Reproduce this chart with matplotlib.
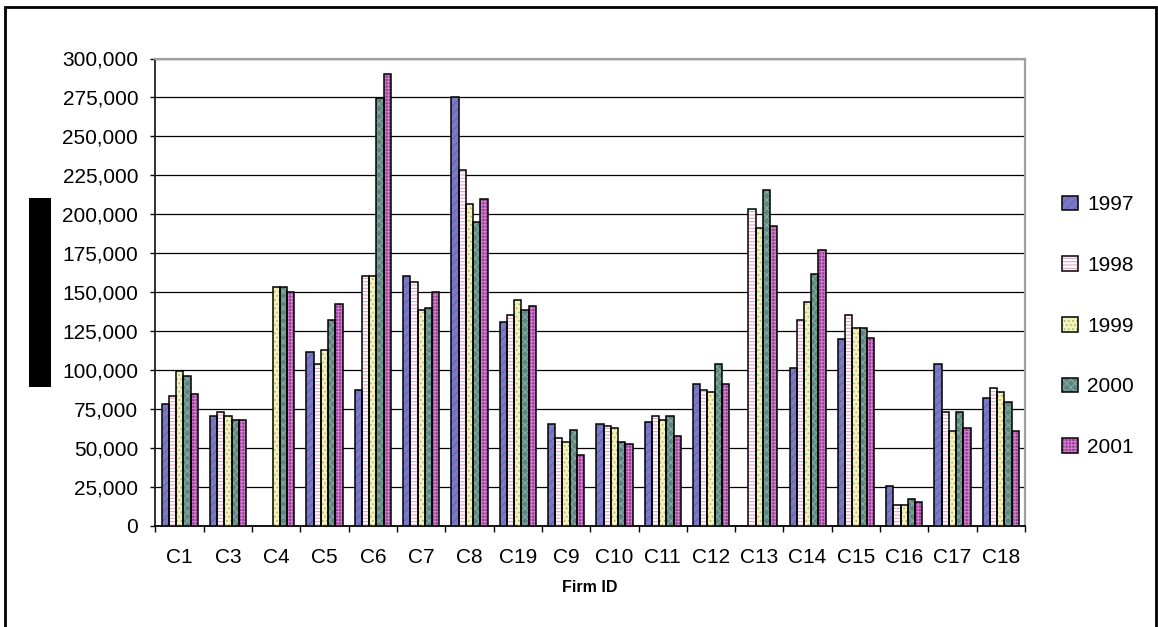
import numpy as np
import matplotlib
matplotlib.use("Agg")
import matplotlib.pyplot as plt
from matplotlib.patches import Rectangle, Patch
from matplotlib.ticker import FuncFormatter, MultipleLocator
from matplotlib.legend_handler import HandlerTuple

plt.rcParams["font.family"] = ["Liberation Sans", "DejaVu Sans"]
plt.rcParams["hatch.linewidth"] = 0.8

# Firm categories and yearly values (None = no data)
firms = ["C1", "C3", "C4", "C5", "C6", "C7", "C8", "C19", "C9",
         "C10", "C11", "C12", "C13", "C14", "C15", "C16", "C17", "C18"]
years = ["1997", "1998", "1999", "2000", "2001"]

v1997 = [78000, 70500, None, 111500, 87000, 160000, 275500, 131000, 65500,
         65500, 66500, 91000, None, 101000, 119500, 25500, 104000, 82000]
v1998 = [83500, 73000, None, 104000, 160000, 156500, 228500, 135000, 56500,
         64000, 70500, 87000, 203000, 132000, 135000, 13000, 73000, 88500]
v1999 = [99000, 70500, 153000, 113000, 160000, 138500, 206500, 145000, 53500,
         62500, 68000, 86000, 191000, 143500, 127000, 13000, 60500, 86000]
v2000 = [96000, 68000, 153000, 132000, 274500, 140000, 195000, 138500, 61500,
         53500, 70500, 104000, 215500, 161500, 127000, 17000, 73000, 79500]
v2001 = [84500, 68000, 150000, 142500, 290000, 150000, 210000, 141000, 45000,
         52500, 57500, 91000, 192500, 177000, 120500, 15000, 62500, 60500]

series = [v1997, v1998, v1999, v2000, v2001]

# fill colour, hatch pattern, hatch colour for each year
styles = [
    ("#7A7AC8", "////", "#6464B4"),
    ("#FFFFFF", "-----", "#E2A2C6"),
    ("#F3F3BC", "....", "#B8B87A"),
    ("#5C867E", "xxxx", "#86ABA3"),
    ("#9A3898", "+++++", "#CC80CA"),
]

W, H = 1158, 627
fig = plt.figure(figsize=(W / 100, H / 100), dpi=100)

left, right, top, bottom = 155.5, 1025, 58.5, 525.5
ax = fig.add_axes([left / W, (H - bottom) / H, (right - left) / W, (bottom - top) / H])

x = np.arange(len(firms))
bw = 0.15
handles = []
for i, (vals, (face, hatch, hcol)) in enumerate(zip(series, styles)):
    h = np.array([np.nan if v is None else v for v in vals], dtype=float)
    pos = x + (i - 2) * bw
    ax.bar(pos, h, bw, color=face, hatch=hatch, edgecolor=hcol, linewidth=0, zorder=3)
    ax.bar(pos, h, bw, fill=False, edgecolor="black", linewidth=1.1, zorder=4)
    handles.append((Patch(facecolor=face, hatch=hatch, edgecolor=hcol, linewidth=0),
                    Patch(fill=False, edgecolor="black", linewidth=1.1)))

ax.set_xlim(-0.5, len(firms) - 0.5)
ax.set_ylim(0, 300000)
ax.yaxis.set_major_locator(MultipleLocator(25000))
ax.yaxis.set_major_formatter(FuncFormatter(lambda v, p: f"{v:,.0f}"))

ax.set_xticks(x)
ax.set_xticklabels(firms)
ax.set_xticks(np.arange(-0.5, len(firms)), minor=True)
ax.tick_params(axis="x", which="major", length=0, pad=16, labelsize=15)
ax.tick_params(axis="x", which="minor", direction="out", length=4.5, width=1, color="black")
ax.tick_params(axis="y", which="major", direction="out", length=3.5, width=1,
               pad=9, labelsize=15)

ax.yaxis.grid(True, color="black", linewidth=0.9)
ax.set_axisbelow(True)

for s in ("top", "right"):
    ax.spines[s].set_color("#A0A0A0")
    ax.spines[s].set_linewidth(1.6)
ax.spines["left"].set_color("#202020")
ax.spines["left"].set_linewidth(1.3)
ax.spines["bottom"].set_color("black")
ax.spines["bottom"].set_linewidth(1.3)

fig.text((left + right) / 2 / W, (H - 588) / H, "Firm ID", ha="center", va="center",
         fontsize=11.5, fontweight="bold")

leg = fig.legend(handles, years, handler_map={tuple: HandlerTuple(ndivide=1)},
                 loc="upper left", bbox_to_anchor=(1052 / W, 1 - 185 / H),
                 frameon=False, fontsize=15, borderpad=0, labelspacing=2.0,
                 handlelength=0.75, handleheight=0.7, handletextpad=0.45)

# outer chart frame (open at the bottom edge)
fig.add_artist(Rectangle((5.3 / W, -0.05), (1155.5 - 5.3) / W, 1.05 - 6.8 / H,
                         transform=fig.transFigure, fill=False, edgecolor="black",
                         linewidth=2, zorder=10))
# solid block over the vertical axis title
fig.add_artist(Rectangle((29 / W, 1 - 387 / H), 22 / W, (387 - 198) / H,
                         transform=fig.transFigure, facecolor="black", edgecolor="none",
                         zorder=10))

fig.savefig("out.png", dpi=100)
